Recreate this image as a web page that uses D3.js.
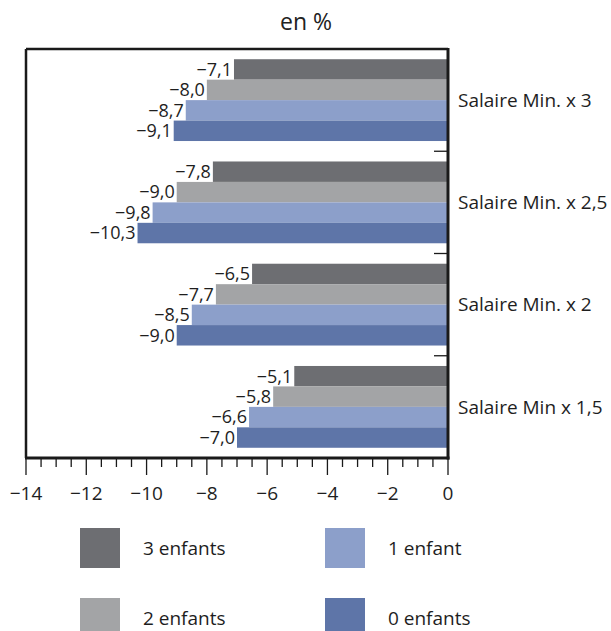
<!DOCTYPE html>
<html><head><meta charset="utf-8">
<script src="https://cdn.jsdelivr.net/npm/d3@7"></script>
<style>body{margin:0;background:#fff}svg{display:block;font-family:"Open Sans","Noto Sans",sans-serif}</style>
</head><body>
<script>
const categories = ["Salaire Min. x 3","Salaire Min. x 2,5","Salaire Min. x 2","Salaire Min x 1,5"];
const seriesNames = ["3 enfants","2 enfants","1 enfant","0 enfants"];
const seriesColors = ["#6d6e72","#a3a4a6","#8c9fca","#5e75a8"];
const enfants3 = [-7.1,-7.8,-6.5,-5.1];
const enfants2 = [-8.0,-9.0,-7.7,-5.8];
const enfant1  = [-8.7,-9.8,-8.5,-6.6];
const enfants0 = [-9.1,-10.3,-9.0,-7.0];
const xTicks = [-14,-12,-10,-8,-6,-4,-2,0];
const title = "en %";

const seriesValues = [enfants3, enfants2, enfant1, enfants0];
const W = 611, H = 631;
const L = 26, R = 448, T = 49, B = 458;
const FS = 19;

const svg = d3.select("body").append("svg").attr("width", W).attr("height", H);

const x = d3.scaleLinear().domain([-14, 0]).range([L, R]);
const y = d3.scaleBand().domain(categories).range([T, B]).paddingInner(0.2).paddingOuter(0.1);
const ys = d3.scaleBand().domain(seriesNames).range([0, y.bandwidth()]);

const fmt = v => (v < 0 ? "\u2212" : "") + Math.abs(v).toFixed(1).replace(".", ",");

svg.append("text").attr("x", 306).attr("y", 30).attr("text-anchor", "middle")
  .attr("font-size", 23).attr("font-weight", 500).attr("fill", "#222").text(title);

// bars
categories.forEach((c, ci) => {
  const g = svg.append("g").attr("transform", `translate(0,${y(c)})`);
  seriesNames.forEach((s, si) => {
    const v = seriesValues[si][ci];
    g.append("rect").attr("x", x(v)).attr("y", ys(s))
      .attr("width", x(0) - x(v)).attr("height", ys.bandwidth())
      .attr("fill", seriesColors[si]);
  });
  seriesNames.forEach((s, si) => {
    const v = seriesValues[si][ci];
    g.append("text").attr("x", x(v) - 2).attr("y", ys(s) + ys.bandwidth() / 2)
      .attr("dy", "0.35em").attr("text-anchor", "end").attr("font-size", 18)
      .attr("fill", "#1e1e1e").text(fmt(v));
  });
});

// frame
svg.append("line").attr("x1", L).attr("x2", R).attr("y1", T).attr("y2", T).attr("stroke", "#1a1a1a").attr("stroke-width", 2.5);
svg.append("line").attr("x1", L).attr("x2", L).attr("y1", T).attr("y2", B).attr("stroke", "#1a1a1a").attr("stroke-width", 2.5);
svg.append("line").attr("x1", R).attr("x2", R).attr("y1", T - 1).attr("y2", B + 1.5).attr("stroke", "#1a1a1a").attr("stroke-width", 3);

// x axis
const xAxis = svg.append("g").attr("transform", `translate(0,${B})`);
xAxis.append("line").attr("x1", L - 1).attr("x2", R + 1.5).attr("stroke", "#1a1a1a").attr("stroke-width", 3);
const minor = d3.range(-14, 0.001, 0.5);
xAxis.selectAll(".mt").data(minor).join("line")
  .attr("x1", d => x(d)).attr("x2", d => x(d)).attr("y1", 0)
  .attr("y2", d => (Math.abs(d % 2) < 1e-6 ? 17 : 9))
  .attr("stroke", "#1a1a1a").attr("stroke-width", 1.3);
xAxis.selectAll(".tl").data(xTicks).join("text")
  .attr("x", d => x(d)).attr("y", 42).attr("text-anchor", "middle")
  .attr("font-size", FS).attr("fill", "#1e1e1e").text(fmt2);
function fmt2(d) { return d < 0 ? "\u2212" + Math.abs(d) : String(d); }

// y axis (right) separators and labels
const sep = categories.slice(1).map(c => y(c) - y.step() * y.paddingInner() / 2);
svg.selectAll(".sep").data(sep).join("line")
  .attr("x1", R - 14).attr("x2", R).attr("y1", d => d).attr("y2", d => d)
  .attr("stroke", "#1a1a1a").attr("stroke-width", 1.3);
svg.selectAll(".cl").data(categories).join("text")
  .attr("x", R + 10).attr("y", c => y(c) + y.bandwidth() / 2).attr("dy", "0.36em")
  .attr("font-size", FS).attr("fill", "#1e1e1e").text(c => c);

// legend
const legPos = [[80, 528], [80, 598], [325, 528], [325, 598]];
seriesNames.forEach((s, i) => {
  const [lx, ly] = legPos[i];
  svg.append("rect").attr("x", lx).attr("y", ly).attr("width", 40).attr("height", 40).attr("fill", seriesColors[i]);
  svg.append("text").attr("x", lx + 63).attr("y", ly + 20).attr("dy", "0.36em")
    .attr("font-size", FS).attr("fill", "#1e1e1e").text(s);
});
</script>
</body></html>
